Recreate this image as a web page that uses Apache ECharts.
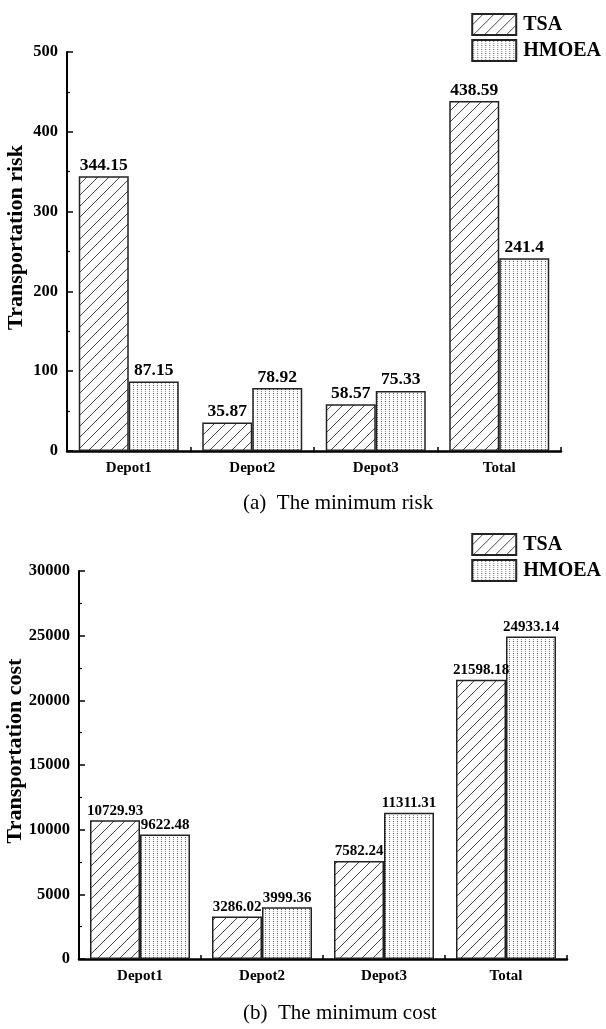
<!DOCTYPE html>
<html>
<head>
<meta charset="utf-8">
<script src="https://cdn.jsdelivr.net/npm/echarts@6/dist/echarts.min.js"></script>
<style>
  html, body { margin: 0; padding: 0; background: #fff; }
  #chart { width: 606px; height: 1029px; }
</style>
</head>
<body>
<div id="chart"></div>
<script>
// Categories and series values
const categories = ['Depot1', 'Depot2', 'Depot3', 'Total'];
const riskTSA = [344.15, 35.87, 58.57, 438.59];
const riskHMOEA = [87.15, 78.92, 75.33, 241.4];
const costTSA = [10729.93, 3286.02, 7582.24, 21598.18];
const costHMOEA = [9622.48, 3999.36, 11311.31, 24933.14];
const seriesNames = ['TSA', 'HMOEA'];
const captions = ['(a)  The minimum risk', '(b)  The minimum cost'];

const FONT = '"Liberation Serif", "Times New Roman", serif';

// Fill patterns: diagonal hatching and fine dots
function hatchPattern() {
  const s = 11;
  const c = document.createElement('canvas');
  c.width = s; c.height = s;
  const g = c.getContext('2d');
  g.fillStyle = '#fff';
  g.fillRect(0, 0, s, s);
  g.strokeStyle = '#333';
  g.lineWidth = 0.9;
  g.beginPath();
  g.moveTo(0, s); g.lineTo(s, 0);
  g.moveTo(-1, 1); g.lineTo(1, -1);
  g.moveTo(s - 1, s + 1); g.lineTo(s + 1, s - 1);
  g.stroke();
  return c;
}
function dotPattern() {
  const c = document.createElement('canvas');
  c.width = 4; c.height = 4;
  const g = c.getContext('2d');
  g.fillStyle = '#fff';
  g.fillRect(0, 0, 4, 4);
  g.fillStyle = '#555';
  g.fillRect(1, 1, 1, 1);
  g.fillStyle = '#999';
  g.fillRect(1, 3, 1, 1);
  return c;
}
const hatch = { image: hatchPattern(), repeat: 'repeat' };
const dots = { image: dotPattern(), repeat: 'repeat' };

function valueAxis(idx, name, max, interval, nameGap) {
  return {
    type: 'value', gridIndex: idx, min: 0, max: max, interval: interval,
    name: name, nameLocation: 'middle', nameGap: nameGap, nameMoveOverlap: false,
    nameTextStyle: {
      fontFamily: FONT, fontWeight: 'bold', fontSize: 22, color: '#000',
      padding: [0, 0, 0, 28]
    },
    axisLine: { show: true, lineStyle: { color: '#000', width: 2 } },
    axisTick: { show: true, inside: true, length: 6, lineStyle: { color: '#000', width: 1.5 } },
    minorTick: { show: true, splitNumber: 2, length: 3, lineStyle: { color: '#000', width: 1.2 } },
    splitLine: { show: false },
    axisLabel: {
      fontFamily: FONT, fontWeight: 'bold', fontSize: 16.5, color: '#000', margin: 9,
      formatter: v => String(v)
    }
  };
}
function catAxis(idx) {
  return {
    type: 'category', gridIndex: idx, data: categories,
    axisLine: { lineStyle: { color: '#000', width: 2.5 } },
    axisTick: { show: true, inside: true, length: 4, alignWithLabel: false, lineStyle: { color: '#000', width: 1.5 } },
    axisLabel: { fontFamily: FONT, fontWeight: 'bold', fontSize: 15, color: '#000', margin: 10 }
  };
}
function barSeries(name, data, idx, fill, fontSize) {
  return {
    name: name, type: 'bar', xAxisIndex: idx, yAxisIndex: idx, data: data,
    barWidth: 50, barGap: '0%',
    itemStyle: { color: fill, borderColor: '#222', borderWidth: 1.5 },
    label: {
      show: true, position: 'top', distance: 2,
      fontFamily: FONT, fontWeight: 'bold', fontSize: fontSize, color: '#000',
      formatter: p => String(p.value)
    },
    emphasis: { disabled: true }
  };
}
function legend(top, right) {
  return {
    orient: 'vertical', top: top, right: right, itemWidth: 44, itemHeight: 21, itemGap: 3,
    icon: 'rect', data: seriesNames,
    textStyle: { fontFamily: FONT, fontWeight: 'bold', fontSize: 20, color: '#000', padding: [0, 0, 0, 2] }
  };
}
function caption(text, top) {
  return {
    text: text, left: 243, top: top, padding: 0,
    textStyle: { fontFamily: FONT, fontWeight: 'normal', fontSize: 21, color: '#000' }
  };
}

const chart = echarts.init(document.getElementById('chart'), null, { renderer: 'canvas' });
chart.setOption({
  backgroundColor: '#fff',
  animation: false,
  title: [caption(captions[0], 493), caption(captions[1], 1003)],
  legend: [legend(8, 0), legend(528, 0)],
  grid: [
    { left: 67, top: 52, width: 494, height: 399, containLabel: false, outerBoundsMode: 'none' },
    { left: 79, top: 571, width: 488, height: 388, containLabel: false, outerBoundsMode: 'none' }
  ],
  xAxis: [catAxis(0), catAxis(1)],
  yAxis: [
    valueAxis(0, 'Transportation risk', 500, 100, 40),
    valueAxis(1, 'Transportation cost', 30000, 5000, 53)
  ],
  series: [
    barSeries(seriesNames[0], riskTSA, 0, hatch, 17.5),
    barSeries(seriesNames[1], riskHMOEA, 0, dots, 17.5),
    barSeries(seriesNames[0], costTSA, 1, hatch, 15),
    barSeries(seriesNames[1], costHMOEA, 1, dots, 15)
  ]
});
</script>
</body>
</html>
